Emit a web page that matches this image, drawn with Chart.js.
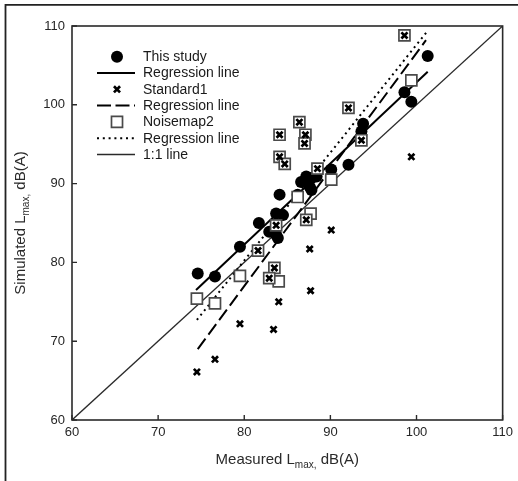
<!DOCTYPE html>
<html><head><meta charset="utf-8">
<script src="https://cdn.jsdelivr.net/npm/chart.js@4.4.0/dist/chart.umd.min.js"></script>
<style>html,body{margin:0;padding:0;background:#fff;}#wrap{position:relative;width:518px;height:481px;}</style>
</head><body><div id="wrap"><canvas id="c" width="518" height="481"></canvas></div>
<script>
// ---- data ----
const thisStudyX = [74.6,76.6,79.5,81.7,82.9,83.7,83.9,83.7,84.5,84.1,86.2,86.6,87.2,87.8,88.4,87.6,87.8,90.1,92.1,93.6,93.8,98.6,99.4,101.3];
const thisStudyY = [78.6,78.2,82.0,85.0,83.9,83.5,83.1,86.2,86.0,88.6,88.6,90.2,90.9,90.7,90.9,89.6,89.2,91.8,92.4,96.6,97.6,101.6,100.4,106.2];

const standard1X = [74.5,76.6,79.5,83.4,84.0,87.7,87.6,90.1,99.4, 84.1,84.1,84.7,98.6,92.1,86.4,87.1,87.0,88.5,93.6,83.7,87.2,81.6,83.5,82.9];
const standard1Y = [66.1,67.7,72.2,71.5,75.0,76.4,81.7,84.1,93.4, 96.2,93.4,92.5,108.8,99.6,97.8,96.2,95.1,91.9,95.5,84.7,85.4,81.5,79.3,78.0];

const noisemap2X = [74.5,76.6,79.5,84.0,87.7,90.1,86.2,99.4, 84.1,84.1,84.7,98.6,92.1,86.4,87.1,87.0,88.5,93.6,83.7,87.2,81.6,83.5,82.9];
const noisemap2Y = [75.4,74.8,78.3,77.6,86.2,90.5,88.3,103.1, 96.2,93.4,92.5,108.8,99.6,97.8,96.2,95.1,91.9,95.5,84.7,85.4,81.5,79.3,78.0];

const thisStudyRegX = [74.4, 101.3];
const thisStudyRegY = [76.5, 104.2];
const standard1RegX = [74.6, 101.1];
const standard1RegY = [69.0, 108.2];
const noisemap2RegX = [74.5, 101.3];
const noisemap2RegY = [72.7, 109.4];
const oneToOneX = [60, 110];
const oneToOneY = [60, 110];

const xTickValues = [60,70,80,90,100,110];
const yTickValues = [60,70,80,90,100,110];

const legendLabels = ['This study','Regression line','Standard1','Regression line','Noisemap2','Regression line','1:1 line'];
const xTitle = ['Measured L','max,',' dB(A)'];
const yTitle = ['Simulated L','max,',' dB(A)'];

// ---- build ----
const pts = (xs, ys) => xs.map((x,i)=>({x:x, y:ys[i]}));
const FONT = '"Liberation Sans", Arial, Helvetica, sans-serif';
const INK = '#1a1a1a';

const dsCircle = {label:legendLabels[0], type:'scatter', data:pts(thisStudyX,thisStudyY), pointStyle:'circle', pointRadius:6, backgroundColor:'#000', borderColor:'#000', borderWidth:0, order:5};
const dsReg1 = {label:legendLabels[1], type:'line', data:pts(thisStudyRegX,thisStudyRegY), borderColor:'#000', borderWidth:2, pointRadius:0, fill:false, order:7};
const dsStd = {label:legendLabels[2], type:'scatter', data:pts(standard1X,standard1Y), pointStyle:'crossRot', pointRadius:4.3, borderColor:'#000', backgroundColor:'#000', borderWidth:2.7, order:3};
const dsReg2 = {label:legendLabels[3], type:'line', data:pts(standard1RegX,standard1RegY), borderColor:'#000', borderWidth:2, borderDash:[13,5], pointRadius:0, fill:false, order:8};
const dsNm = {label:legendLabels[4], type:'scatter', data:pts(noisemap2X,noisemap2Y), pointStyle:'rect', pointRadius:7.8, borderColor:'#4a4a4a', backgroundColor:'#fff', borderWidth:1.7, order:4};
const dsReg3 = {label:legendLabels[5], type:'line', data:pts(noisemap2RegX,noisemap2RegY), borderColor:'#000', borderWidth:2, borderDash:[2,3.8], pointRadius:0, fill:false, order:9};
const dsOne = {label:legendLabels[6], type:'line', data:pts(oneToOneX,oneToOneY), borderColor:'#2a2a2a', borderWidth:1.3, pointRadius:0, fill:false, order:10};
const datasets = [dsCircle, dsReg1, dsStd, dsReg2, dsNm, dsReg3, dsOne];

function drawSubTitle(ctx, parts, cx, cy, rot){
  ctx.save();
  ctx.translate(cx, cy);
  if (rot) ctx.rotate(rot);
  const big = '15px ' + FONT, small = '10px ' + FONT;
  ctx.font = big; const w0 = ctx.measureText(parts[0]).width; const w2 = ctx.measureText(parts[2]).width;
  ctx.font = small; const w1 = ctx.measureText(parts[1]).width;
  let x = -(w0+w1+w2)/2;
  ctx.fillStyle = '#2a2a2a'; ctx.textBaseline = 'middle'; ctx.textAlign = 'left';
  ctx.font = big; ctx.fillText(parts[0], x, 0); x += w0;
  ctx.font = small; ctx.fillText(parts[1], x, 5); x += w1;
  ctx.font = big; ctx.fillText(parts[2], x, 0);
  ctx.restore();
}

const custom = {
  id:'custom',
  beforeDraw(chart){
    const ctx = chart.ctx;
    ctx.save();
    ctx.fillStyle = '#fff'; ctx.fillRect(0,0,chart.width,chart.height);
    ctx.strokeStyle = '#222'; ctx.lineWidth = 1.8;
    ctx.beginPath(); ctx.moveTo(5.5, chart.height); ctx.lineTo(5.5, 4.8); ctx.lineTo(chart.width, 4.8); ctx.stroke();
    ctx.restore();
  },
  afterDraw(chart){
    const ctx = chart.ctx, a = chart.chartArea;
    const xs = chart.scales.x, ys = chart.scales.y;
    ctx.save();
    ctx.strokeStyle = '#2a2a2a'; ctx.lineWidth = 1.6;
    ctx.strokeRect(a.left, a.top, a.right - a.left, a.bottom - a.top);
    ctx.lineWidth = 1.4;
    ctx.beginPath();
    xTickValues.forEach(v => { const px = xs.getPixelForValue(v); ctx.moveTo(px, a.bottom); ctx.lineTo(px, a.bottom - 5); });
    yTickValues.forEach(v => { const py = ys.getPixelForValue(v); ctx.moveTo(a.left, py); ctx.lineTo(a.left + 5, py); });
    ctx.stroke();
    drawSubTitle(ctx, xTitle, (a.left + a.right)/2, 460, 0);
    drawSubTitle(ctx, yTitle, 21, (a.top + a.bottom)/2, -Math.PI/2);
    const symX = a.left + 45, lineL = a.left + 25, lineR = a.left + 63, textX = a.left + 71;
    const rowY0 = 56.7, step = 16.3;
    ctx.font = '14px ' + FONT; ctx.textBaseline = 'middle'; ctx.textAlign = 'left';
    datasets.forEach((d, i) => {
      const y = rowY0 + i*step;
      if (d.type === 'scatter') {
        ctx.save();
        ctx.fillStyle = d.backgroundColor; ctx.strokeStyle = d.borderColor; ctx.lineWidth = d.borderWidth;
        Chart.helpers.drawPoint(ctx, {pointStyle:d.pointStyle, radius:d.pointRadius, borderWidth:d.borderWidth, rotation:0}, symX, y);
        ctx.restore();
      } else {
        ctx.save();
        ctx.strokeStyle = d.borderColor; ctx.lineWidth = d.borderWidth;
        ctx.setLineDash(d.borderDash ? (d.borderDash[0] > 5 ? [14,4.5] : d.borderDash) : []);
        ctx.beginPath(); ctx.moveTo(lineL, y); ctx.lineTo(lineR, y); ctx.stroke();
        ctx.restore();
      }
      ctx.fillStyle = INK;
      ctx.fillText(d.label, textX, y + 0.5);
    });
    ctx.restore();
  }
};

new Chart(document.getElementById('c'), {
  data: {datasets: datasets},
  options: {
    responsive:false, animation:false, devicePixelRatio:1,
    layout:{padding:{left:0, right:15, top:26, bottom:0}},
    plugins:{legend:{display:false}, tooltip:{enabled:false}},
    scales:{
      x:{type:'linear', position:'bottom', min:60, max:110,
        afterBuildTicks: s => { s.ticks = xTickValues.map(v=>({value:v})); },
        afterFit: s => { s.height = 61; },
        grid:{display:false, drawTicks:false}, border:{display:false},
        ticks:{padding:5, color:'#262626', font:{family:FONT, size:13}, maxRotation:0}},
      y:{type:'linear', position:'left', min:60, max:110,
        afterBuildTicks: s => { s.ticks = yTickValues.map(v=>({value:v})); },
        afterFit: s => { s.width = 72; },
        grid:{display:false, drawTicks:false}, border:{display:false},
        ticks:{padding:7, color:'#262626', font:{family:FONT, size:13}}}
    }
  },
  plugins:[custom]
});
</script></body></html>
